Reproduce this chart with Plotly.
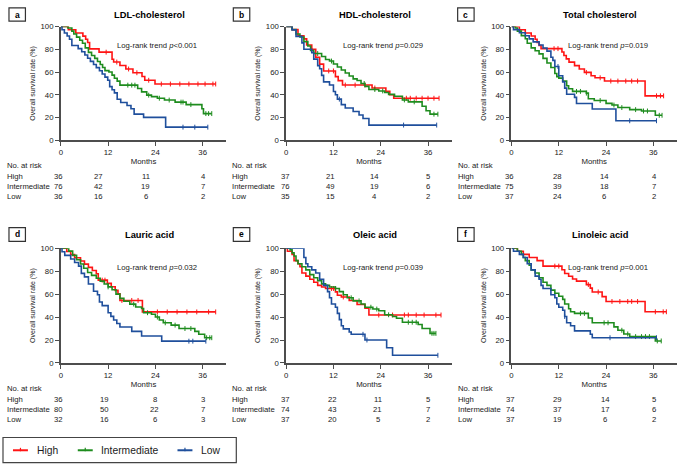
import plotly.graph_objects as go

W, H = 678, 469
FONT = "Liberation Sans, Arial, sans-serif"

# ---------------- data ----------------
titles = ["LDL-cholesterol", "HDL-cholesterol", "Total cholesterol",
          "Lauric acid", "Oleic acid", "Linoleic acid"]
letters = ["a", "b", "c", "d", "e", "f"]
pvals = ["&lt;0.001", "=0.029", "=0.019", "=0.032", "=0.039", "=0.001"]
groups = ["High", "Intermediate", "Low"]
x_ticks = [0, 12, 24, 36]
y_ticks = [0, 20, 40, 60, 80, 100]

# panel a
a_high_t = [1.9, 3.8, 5.6, 6.3, 6.8, 7.3, 9.7, 13.0, 13.4, 15.0, 16.5, 18.3, 20.6, 21.3, 23.9]
a_high_s = [97.2, 94.4, 91.6, 88.8, 86.0, 80.4, 77.5, 71.3, 68.8, 65.8, 62.7, 59.4, 56.1, 52.8, 49.5]
a_high_c = [11.5, 14.2, 17.2, 19.3, 22.3, 25.5, 27.8, 30.2, 32.5, 34.8, 36.6, 38.6, 39.3]
a_int_t = [1.8, 2.8, 3.3, 4.0, 4.8, 5.5, 6.2, 7.0, 7.8, 8.6, 9.3, 10.0, 10.6, 11.2, 12.2, 13.0, 13.6, 14.3, 15.0, 19.5, 20.5, 21.8, 23.0, 24.5, 26.3, 29.0, 31.8, 35.8, 36.2]
a_int_s = [98.7, 96.0, 93.4, 90.7, 88.0, 85.3, 81.3, 77.3, 74.6, 72.0, 69.3, 66.6, 64.0, 61.3, 60.0, 57.3, 54.6, 52.0, 48.5, 45.6, 42.6, 39.7, 38.4, 37.0, 35.4, 33.6, 31.4, 27.8, 23.5]
a_int_c = [17.0, 18.0, 18.8, 22.3, 25.0, 27.5, 30.5, 31.0, 33.0, 36.8, 37.5, 38.3]
a_low_t = [0.3, 0.9, 1.6, 2.2, 2.8, 4.4, 5.3, 6.1, 6.8, 7.5, 8.3, 9.0, 9.8, 10.5, 11.2, 11.9, 12.4, 13.0, 13.6, 14.3, 15.2, 16.8, 17.8, 18.6, 21.0, 26.6]
a_low_s = [97.2, 94.4, 91.7, 88.9, 83.3, 80.6, 77.8, 75.0, 72.2, 69.4, 66.7, 63.9, 61.1, 58.3, 55.6, 52.8, 47.2, 44.4, 41.7, 36.1, 33.3, 30.6, 27.8, 23.0, 20.2, 11.6]
a_low_c = [31.0, 34.0, 37.3]

# panel b
b_high_t = [1.5, 3.0, 4.5, 5.2, 6.5, 7.5, 8.5, 9.5, 12.5, 13.2, 14.3, 21.8, 25.3, 26.3, 27.3]
b_high_s = [97.3, 91.9, 89.2, 83.8, 80.0, 73.0, 67.0, 61.0, 56.0, 52.5, 48.6, 46.0, 43.0, 40.0, 37.0]
b_high_c = [10.8, 12.0, 15.0, 17.5, 20.0, 22.5, 30.5, 31.5, 33.0, 34.5, 36.0, 37.5, 38.8]
b_int_t = [1.5, 2.5, 3.5, 4.5, 5.5, 6.2, 7.0, 9.0, 10.0, 11.0, 12.0, 13.0, 14.0, 15.0, 16.0, 17.0, 18.0, 19.0, 20.0, 21.0, 23.5, 25.0, 26.0, 27.5, 29.5, 31.0, 34.5, 35.5, 36.5]
b_int_s = [97.4, 93.4, 90.8, 86.8, 82.9, 78.9, 76.3, 73.7, 71.1, 69.7, 67.1, 64.5, 61.8, 59.2, 56.6, 54.0, 52.6, 50.0, 47.4, 44.7, 43.4, 42.0, 40.4, 38.7, 35.5, 33.8, 30.0, 26.0, 23.0]
b_int_c = [8.0, 11.5, 19.8, 22.5, 24.5, 30.0, 32.5, 37.5, 38.5]
b_low_t = [1.5, 2.5, 4.0, 4.5, 6.5, 7.0, 8.0, 8.5, 9.0, 9.5, 11.0, 12.0, 12.5, 13.0, 14.0, 15.0, 17.0, 18.5, 19.5, 21.0]
b_low_s = [97.1, 91.4, 85.7, 80.0, 77.1, 71.4, 65.7, 62.9, 57.1, 51.4, 48.6, 42.9, 40.0, 36.2, 31.4, 28.4, 25.4, 22.3, 19.2, 13.4]
b_low_c = [13.5, 29.8, 38.2]

# panel c
c_high_t = [2.0, 3.5, 5.0, 6.0, 6.5, 7.0, 7.5, 12.8, 13.3, 13.9, 14.6, 16.0, 17.2, 18.5, 20.2, 21.2, 23.6, 33.9]
c_high_s = [97.2, 94.4, 91.7, 88.9, 86.1, 83.3, 80.6, 77.6, 74.6, 71.6, 68.7, 65.7, 62.7, 59.7, 56.7, 55.0, 52.1, 39.1]
c_high_c = [10.8, 11.8, 19.0, 22.5, 25.2, 27.0, 29.0, 30.5, 32.0, 36.8, 37.8, 38.6]
c_int_t = [1.0, 1.5, 2.5, 3.5, 4.0, 5.0, 6.0, 7.0, 8.0, 9.0, 10.0, 11.0, 11.5, 12.0, 13.0, 14.0, 14.5, 15.5, 19.0, 19.5, 21.0, 24.0, 25.5, 27.0, 30.0, 33.0, 36.5]
c_int_s = [98.7, 96.0, 92.0, 89.3, 85.3, 81.3, 78.7, 76.0, 72.0, 68.0, 64.0, 58.7, 56.0, 54.7, 52.0, 48.0, 45.3, 43.0, 41.5, 36.5, 35.0, 32.5, 31.0, 28.8, 27.0, 25.8, 22.0]
c_int_c = [16.5, 17.5, 19.0, 22.5, 26.0, 28.0, 31.5, 33.5, 34.5, 37.5, 38.2]
c_low_t = [0.5, 2.0, 3.5, 4.5, 5.5, 7.0, 8.0, 9.0, 10.0, 10.5, 11.0, 12.0, 13.0, 13.5, 14.0, 16.0, 16.5, 20.5, 26.5]
c_low_s = [97.3, 94.6, 91.9, 89.2, 86.5, 83.8, 81.1, 78.4, 73.0, 70.3, 64.9, 56.8, 51.4, 45.9, 40.5, 37.8, 32.4, 27.6, 17.2]
c_low_c = [11.8, 30.0, 36.8]

# panel d
d_high_t = [1.5, 2.5, 3.5, 5.0, 6.0, 7.0, 8.0, 9.0, 9.5, 11.8, 12.8, 13.8, 14.5, 15.0, 20.7]
d_high_s = [97.2, 94.4, 91.7, 88.9, 86.1, 83.3, 80.6, 77.8, 72.2, 69.4, 66.4, 63.3, 60.3, 54.5, 44.5]
d_high_c = [10.5, 11.2, 15.5, 18.0, 19.6, 24.5, 27.0, 29.5, 32.0, 34.5, 37.5, 39.3]
d_int_t = [2.0, 3.0, 4.0, 5.0, 5.8, 6.8, 7.8, 9.0, 10.0, 11.0, 12.0, 13.0, 14.0, 15.0, 16.0, 17.5, 19.0, 20.5, 21.0, 23.0, 24.0, 25.0, 26.0, 28.0, 30.0, 34.0, 35.0, 36.5]
d_int_s = [97.5, 93.8, 90.0, 86.3, 82.5, 78.8, 76.3, 73.8, 71.3, 68.8, 66.3, 63.8, 60.0, 56.3, 53.8, 51.3, 48.8, 47.5, 43.8, 42.5, 40.0, 37.5, 35.0, 33.0, 30.0, 27.5, 25.0, 22.0]
d_int_c = [12.0, 18.5, 22.0, 24.5, 26.5, 29.0, 31.5, 33.0, 37.0, 37.8, 38.3]
d_low_t = [0.3, 1.0, 2.5, 3.5, 4.5, 5.2, 6.0, 7.0, 8.3, 9.3, 9.8, 10.5, 12.0, 12.7, 13.4, 14.2, 15.0, 18.0, 20.5, 25.6]
d_low_s = [96.9, 93.8, 90.6, 87.5, 84.4, 78.1, 75.0, 68.8, 62.5, 59.4, 53.1, 50.0, 43.8, 40.6, 37.5, 34.4, 31.3, 27.5, 23.5, 19.0]
d_low_c = [32.5, 33.5, 36.8]

# panel e
e_high_t = [0.3, 1.5, 2.0, 3.0, 3.5, 4.0, 5.0, 6.0, 7.0, 8.0, 9.0, 10.0, 12.5, 13.0, 14.0, 16.0, 18.0, 20.0, 21.0]
e_high_s = [97.3, 94.6, 89.2, 86.5, 83.8, 78.4, 75.7, 73.0, 70.3, 67.6, 66.2, 64.9, 62.0, 59.0, 57.5, 54.4, 51.0, 47.8, 41.8]
e_high_c = [11.5, 12.0, 14.5, 23.5, 27.0, 30.0, 31.0, 33.0, 35.0, 38.0, 39.3]
e_int_t = [1.0, 1.5, 2.0, 2.5, 3.0, 4.0, 5.0, 6.0, 7.0, 8.0, 9.0, 10.0, 11.0, 12.5, 13.5, 14.5, 15.5, 17.0, 19.0, 20.0, 22.0, 23.5, 25.0, 27.0, 28.0, 29.5, 33.5, 34.5, 36.5]
e_int_s = [98.6, 95.9, 93.2, 89.2, 86.5, 83.8, 81.1, 77.0, 74.3, 71.6, 68.9, 67.6, 66.2, 64.9, 62.2, 59.5, 56.8, 54.1, 51.4, 48.6, 47.0, 45.5, 42.0, 40.5, 39.0, 35.5, 33.5, 30.0, 25.8]
e_int_c = [12.5, 16.5, 18.5, 21.5, 23.0, 26.0, 31.0, 32.0, 33.0, 37.0, 37.5, 38.0]
e_low_t = [4.5, 5.0, 5.5, 6.5, 7.5, 8.5, 9.5, 10.5, 11.0, 11.5, 12.5, 13.0, 13.5, 14.0, 14.5, 16.0, 16.5, 20.0, 25.5, 27.0]
e_low_s = [91.9, 86.5, 83.8, 81.1, 78.4, 73.0, 67.6, 62.2, 56.8, 51.4, 48.6, 43.2, 37.8, 32.4, 29.7, 27.0, 25.0, 20.0, 13.3, 6.7]
e_low_c = [19.5, 20.5, 38.5]

# panel f
f_high_t = [1.5, 3.0, 4.5, 6.5, 8.0, 12.8, 13.5, 14.5, 15.5, 16.5, 19.0, 20.0, 20.5, 23.0, 24.0, 33.9]
f_high_s = [97.3, 94.6, 91.9, 89.2, 84.4, 81.2, 78.0, 75.6, 73.2, 71.3, 68.3, 65.2, 61.9, 57.8, 53.6, 44.6]
f_high_c = [11.0, 12.0, 19.5, 22.0, 25.5, 27.5, 29.5, 30.5, 32.0, 36.5, 38.5, 39.3]
f_int_t = [1.5, 2.5, 3.0, 3.5, 4.5, 5.0, 6.0, 7.0, 8.0, 9.0, 10.0, 11.0, 12.0, 13.0, 13.5, 14.5, 15.0, 16.0, 19.5, 20.5, 26.0, 27.0, 28.5, 30.0, 36.5]
f_int_s = [97.3, 94.6, 91.9, 89.2, 85.1, 81.1, 78.4, 74.3, 70.3, 67.6, 63.5, 60.8, 58.1, 55.4, 51.4, 47.3, 44.6, 43.2, 39.2, 35.0, 31.5, 28.5, 25.3, 23.0, 19.2]
f_int_c = [17.5, 18.5, 23.5, 24.5, 28.0, 29.5, 31.5, 33.0, 34.0, 35.0, 37.0, 38.0]
f_low_t = [0.5, 2.0, 3.0, 4.0, 5.0, 6.0, 7.0, 7.5, 8.0, 10.0, 11.0, 11.5, 12.0, 13.0, 13.5, 14.0, 15.0, 16.0, 20.0, 20.5]
f_low_s = [97.3, 94.6, 91.9, 86.5, 81.1, 75.7, 73.0, 67.6, 64.9, 59.5, 56.8, 51.4, 48.6, 45.9, 40.5, 35.1, 32.4, 28.0, 25.0, 22.0]
f_low_c = [13.5, 25.0, 36.8]

# numbers at risk (at 0, 12, 24, 36 months)
a_risk_high = [36, 27, 11, 4]; a_risk_int = [76, 42, 19, 7]; a_risk_low = [36, 16, 6, 2]
b_risk_high = [37, 21, 14, 5]; b_risk_int = [76, 49, 19, 6]; b_risk_low = [35, 15, 4, 2]
c_risk_high = [36, 28, 14, 4]; c_risk_int = [75, 39, 18, 7]; c_risk_low = [37, 24, 6, 2]
d_risk_high = [36, 19, 8, 3];  d_risk_int = [80, 50, 22, 7]; d_risk_low = [32, 16, 6, 3]
e_risk_high = [37, 22, 11, 5]; e_risk_int = [74, 43, 21, 7]; e_risk_low = [37, 20, 5, 2]
f_risk_high = [37, 29, 14, 5]; f_risk_int = [74, 37, 17, 6]; f_risk_low = [37, 19, 6, 2]

curves = [
    [(a_high_t, a_high_s, a_high_c), (a_int_t, a_int_s, a_int_c), (a_low_t, a_low_s, a_low_c)],
    [(b_high_t, b_high_s, b_high_c), (b_int_t, b_int_s, b_int_c), (b_low_t, b_low_s, b_low_c)],
    [(c_high_t, c_high_s, c_high_c), (c_int_t, c_int_s, c_int_c), (c_low_t, c_low_s, c_low_c)],
    [(d_high_t, d_high_s, d_high_c), (d_int_t, d_int_s, d_int_c), (d_low_t, d_low_s, d_low_c)],
    [(e_high_t, e_high_s, e_high_c), (e_int_t, e_int_s, e_int_c), (e_low_t, e_low_s, e_low_c)],
    [(f_high_t, f_high_s, f_high_c), (f_int_t, f_int_s, f_int_c), (f_low_t, f_low_s, f_low_c)],
]
risks = [
    [a_risk_high, a_risk_int, a_risk_low], [b_risk_high, b_risk_int, b_risk_low],
    [c_risk_high, c_risk_int, c_risk_low], [d_risk_high, d_risk_int, d_risk_low],
    [e_risk_high, e_risk_int, e_risk_low], [f_risk_high, f_risk_int, f_risk_low],
]

# ---------------- styling / layout constants ----------------
colors = ["#ff1414", "#1e8c1e", "#1f4f9c"]
axis_col = "#4d4d4d"
txt_col = "#1a1a1a"

col_x0 = [59, 285, 511]          # pixel x of month 0 for each column
plot_w = 166                      # pixel width of plot area
row_y = [(23, 139), (249, 366)]   # pixel y of 100% and 0%
title_y = [11, 236]
box_y = [(4, 17.5), (228, 242)]
box_x = [(7, 23.5), (232, 248.5), (457, 473.5)]
risk_rows_y = [(165, 176, 186, 196), (392, 403, 413, 423.5)]
risk_label_x = [3, 229, 455]
risk_num_x = [[57, 97, 144, 202], [284, 329, 374, 427], [509, 557, 604, 654],
              [57, 103, 153, 202], [284, 331, 377, 427], [510, 557, 605, 654]]
legend_box = (1, 442, 235, 467.5)
legend_line_x = [(11, 26), (76, 91), (176, 191)]
legend_text_x = [33, 97, 198]
legend_y = 455


def px(v):
    return v / W


def py(v):
    return 1 - v / H


def surv_at(t_list, s_list, c):
    val = 100.0
    for t, s in zip(t_list, s_list):
        if t <= c:
            val = s
    return val


fig = go.Figure()
layout = dict(
    width=W, height=H, margin=dict(l=0, r=0, t=0, b=0),
    paper_bgcolor="white", plot_bgcolor="white",
    font=dict(family=FONT, size=8, color=txt_col),
    showlegend=False,
)
annotations = []
shapes = []

for i in range(6):
    r, c = divmod(i, 3)
    ax = "" if i == 0 else str(i + 1)
    x0 = col_x0[c]
    y100, y0 = row_y[r]
    layout["xaxis" + ax] = dict(
        domain=[px(x0), min(px(x0 + plot_w), 1.0)], range=[0, 42], anchor="y" + ax,
        tickvals=x_ticks, ticks="outside", ticklen=4, tickwidth=1.3, tickcolor=axis_col,
        showline=True, linecolor=axis_col, linewidth=1.5, showgrid=False, zeroline=False,
        tickfont=dict(size=7.8, color=txt_col, family=FONT),
        title=dict(text="Months", font=dict(size=7.8, color=txt_col, family=FONT), standoff=1),
    )
    layout["yaxis" + ax] = dict(
        domain=[py(y0), py(y100)], range=[0, 100], anchor="x" + ax,
        tickvals=y_ticks, ticks="outside", ticklen=4, tickwidth=1.3, tickcolor=axis_col,
        showline=True, linecolor=axis_col, linewidth=1.5, showgrid=False, zeroline=False,
        tickfont=dict(size=7.8, color=txt_col, family=FONT),
        title=dict(text="Overall survival rate (%)", font=dict(size=7, color=txt_col, family=FONT), standoff=4),
    )
    xr, yr = "x" + ax, "y" + ax
    for g in range(3):
        t, s, cens = curves[i][g]
        end = max(cens)
        fig.add_trace(go.Scatter(
            x=[0] + t + [end], y=[100] + s + [s[-1]], mode="lines",
            line=dict(color=colors[g], width=1.6, shape="hv"),
            xaxis=xr, yaxis=yr, showlegend=False, cliponaxis=False, hoverinfo="skip",
        ))
        fig.add_trace(go.Scatter(
            x=cens, y=[surv_at(t, s, cc) for cc in cens], mode="markers",
            marker=dict(symbol="line-ns", size=3.5, line=dict(color=colors[g], width=1)),
            xaxis=xr, yaxis=yr, showlegend=False, cliponaxis=False, hoverinfo="skip",
        ))
    # panel title
    annotations.append(dict(
        text="<b>%s</b>" % titles[i], x=22.5, xref=xr, y=py(title_y[r]), yref="paper",
        showarrow=False, xanchor="center", yanchor="middle",
        font=dict(size=9.3, color="#000", family=FONT)))
    # p-value text
    annotations.append(dict(
        text="Log-rank trend <i>p</i>%s" % pvals[i], x=24.5, xref=xr, y=83, yref=yr,
        showarrow=False, xanchor="center", yanchor="middle",
        font=dict(size=7.7, color=txt_col, family=FONT)))
    # letter box
    bx0, bx1 = box_x[c]
    by0, by1 = box_y[r]
    shapes.append(dict(type="rect", xref="paper", yref="paper",
                       x0=px(bx0), x1=px(bx1), y0=py(by1), y1=py(by0),
                       line=dict(color="#333", width=1.2), fillcolor="white"))
    annotations.append(dict(
        text="<b>%s</b>" % letters[i], x=px((bx0 + bx1) / 2), y=py((by0 + by1) / 2),
        xref="paper", yref="paper", showarrow=False, xanchor="center", yanchor="middle",
        font=dict(size=8.5, color="#000", family=FONT)))
    # risk table
    ry = risk_rows_y[r]
    annotations.append(dict(
        text="No. at risk", x=px(risk_label_x[c]), y=py(ry[0]), xref="paper", yref="paper",
        showarrow=False, xanchor="left", yanchor="middle",
        font=dict(size=7.7, color=txt_col, family=FONT)))
    for g in range(3):
        annotations.append(dict(
            text=groups[g], x=px(risk_label_x[c]), y=py(ry[g + 1]), xref="paper", yref="paper",
            showarrow=False, xanchor="left", yanchor="middle",
            font=dict(size=7.7, color=txt_col, family=FONT)))
        for k, n in enumerate(risks[i][g]):
            annotations.append(dict(
                text=str(n), x=px(risk_num_x[i][k]), y=py(ry[g + 1]), xref="paper", yref="paper",
                showarrow=False, xanchor="center", yanchor="middle",
                font=dict(size=7.7, color=txt_col, family=FONT)))

# legend (drawn as a framed key)
lx0, ly0, lx1, ly1 = legend_box
shapes.append(dict(type="rect", xref="paper", yref="paper",
                   x0=px(lx0), x1=px(lx1), y0=py(ly1), y1=py(ly0),
                   line=dict(color="#444", width=1.2), fillcolor="white"))
for g in range(3):
    sx0, sx1 = legend_line_x[g]
    shapes.append(dict(type="line", xref="paper", yref="paper",
                       x0=px(sx0), x1=px(sx1), y0=py(legend_y), y1=py(legend_y),
                       line=dict(color=colors[g], width=2)))
    mid = (sx0 + sx1) / 2
    shapes.append(dict(type="line", xref="paper", yref="paper",
                       x0=px(mid), x1=px(mid), y0=py(legend_y - 2.5), y1=py(legend_y + 1),
                       line=dict(color=colors[g], width=1.2)))
    annotations.append(dict(
        text=groups[g], x=px(legend_text_x[g]), y=py(legend_y), xref="paper", yref="paper",
        showarrow=False, xanchor="left", yanchor="middle",
        font=dict(size=10.3, color=txt_col, family=FONT)))

layout["annotations"] = annotations
layout["shapes"] = shapes
fig.update_layout(**layout)
fig.write_html("out.html", config={"displayModeBar": False},
               post_script="document.body.style.margin='0';document.body.style.padding='0';")
